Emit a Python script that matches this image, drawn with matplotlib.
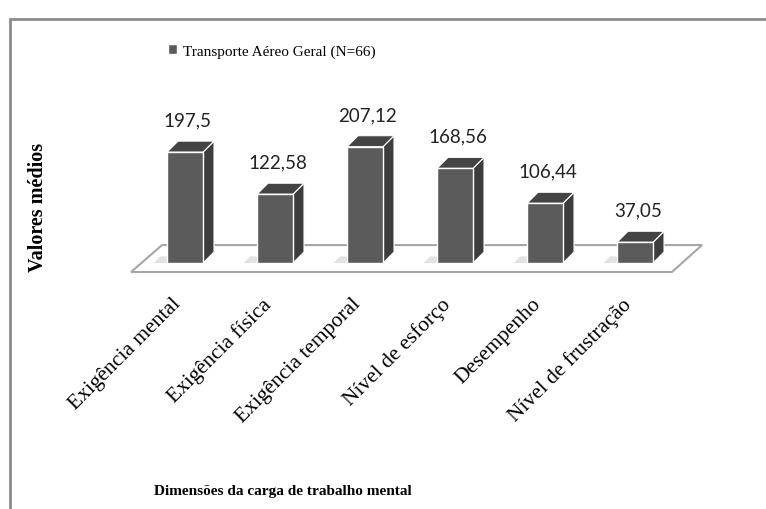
import matplotlib
matplotlib.use('Agg')
import matplotlib.pyplot as plt
from matplotlib.patches import Polygon, Rectangle

categorias = ['Exigência mental', 'Exigência física', 'Exigência temporal',
              'Nível de esforço', 'Desempenho', 'Nível de frustração']
medias = [197.5, 122.58, 207.12, 168.56, 106.44, 37.05]
serie = 'Transporte Aéreo Geral (N=66)'

cor_frente = '#5b5b5b'
cor_lado = '#3d3d3d'
cor_topo = '#444444'

fig = plt.figure(figsize=(7.66, 5.10), dpi=100)
ax = fig.add_axes([0.1593, 0.4382, 0.7755, 0.3965])
ax.set_xlim(-0.7, 5.9)
ax.set_ylim(-40, 320)
ax.axis('off')

# moldura do gráfico (aberta à direita e em baixo, como no recorte original)
fig.patches.append(Rectangle((10 / 766, -0.1), 1.2, 1 - 20 / 510 + 0.1,
                             transform=fig.transFigure, fill=False,
                             edgecolor='#8c8c8c', lw=2))

# piso 3D
piso = Polygon([(-0.6, -16), (5.41, -16), (5.744, 32), (-0.256, 32)],
               closed=True, facecolor='white', edgecolor='#a6a6a6',
               lw=1.5, zorder=1)
ax.add_patch(piso)

# barras 3D
larg = 0.4
dx, dy = 0.122, 19.6
x = list(range(len(categorias)))
barras = ax.bar(x, medias, width=larg, color=cor_frente, edgecolor='white',
                lw=1, zorder=4, label=serie)
for xi, v in zip(x, medias):
    dir_ = xi + larg / 2
    esq = xi - larg / 2
    sombra = Polygon([(esq - 0.15, 0), (esq, 0), (esq + dx * 0.6, dy * 0.6),
                      (esq - 0.15 + dx * 0.6, dy * 0.6)],
                     closed=True, facecolor='#e2e2e2', edgecolor='none', zorder=2)
    lado = Polygon([(dir_, 0), (dir_ + dx, dy), (dir_ + dx, v + dy), (dir_, v)],
                   closed=True, facecolor=cor_lado, edgecolor='white', lw=0.8, zorder=3)
    topo = Polygon([(esq, v), (esq + dx, v + dy), (dir_ + dx, v + dy), (dir_, v)],
                   closed=True, facecolor=cor_topo, edgecolor='white', lw=0.8, zorder=3)
    ax.add_patch(sombra)
    ax.add_patch(lado)
    ax.add_patch(topo)
    ax.annotate(str(v).replace('.', ','), (xi + 0.03, v), xytext=(0, 17),
                textcoords='offset points', ha='center', va='bottom',
                fontsize=13.5, family='Lato', color='#222222')

# rótulos das categorias
for xi, nome in zip(x, categorias):
    ax.annotate(nome, (xi, -40), xytext=(-10, -6), textcoords='offset points',
                rotation=45, ha='right', va='top', rotation_mode='anchor',
                fontsize=15.5, family='Liberation Serif', color='black')

fig.text(38 / 766, 1 - 207 / 510, 'Valores médios', rotation=90,
         ha='center', va='center', fontsize=14.5, fontweight='bold',
         family='Liberation Serif')
fig.text(283 / 766, 1 - 492 / 510, 'Dimensões da carga de trabalho mental',
         ha='center', va='center', fontsize=11, fontweight='bold',
         family='Liberation Serif')

fig.legend(handles=[barras], labels=[serie], loc='center',
           bbox_to_anchor=(272 / 766, 1 - 52 / 510), frameon=False,
           handlelength=0.6, handleheight=0.6, handletextpad=0.4,
           prop={'family': 'Liberation Serif', 'size': 11})

fig.savefig('out.png', dpi=100, facecolor='white')
